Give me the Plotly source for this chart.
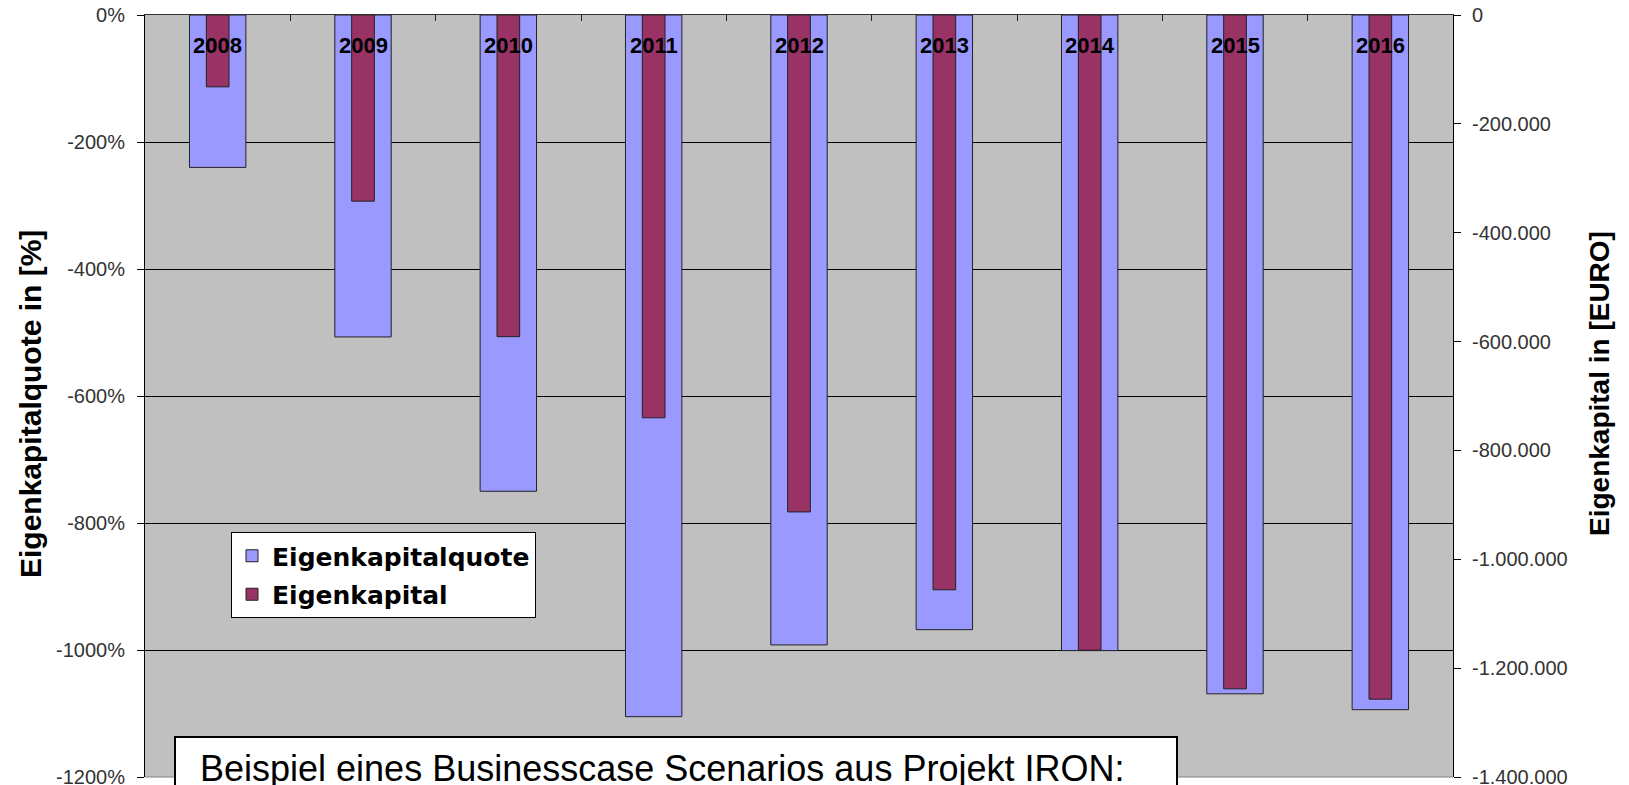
import plotly.graph_objects as go

years = ["2008", "2009", "2010", "2011", "2012", "2013", "2014", "2015", "2016"]
eigenkapitalquote = [-240, -507, -750, -1105, -992, -968, -1001, -1069, -1094]
eigenkapital = [-132000, -342000, -591000, -740000, -913000, -1056000, -1167000, -1238000, -1257000]

left_ticks = [0, -200, -400, -600, -800, -1000, -1200]
left_ticktext = ["0%", "-200%", "-400%", "-600%", "-800%", "-1000%", "-1200%"]
right_ticks = [0, -200000, -400000, -600000, -800000, -1000000, -1200000, -1400000]
right_ticktext = ["0", "-200.000", "-400.000", "-600.000", "-800.000", "-1.000.000", "-1.200.000", "-1.400.000"]

W, H = 1629, 785
L, R, T, B = 145, 176, 15, 8
pw, ph = W - L - R, H - T - B

def px(xp):
    return (xp - L) / pw

def py(yp):
    return (H - B - yp) / ph

fig = go.Figure()
fig.add_trace(go.Bar(
    x=years, y=eigenkapitalquote, name="Eigenkapitalquote", yaxis="y",
    width=0.388, marker=dict(color="#9999FF", line=dict(color="#222222", width=1)),
    legendgroup="a",
))
fig.add_trace(go.Bar(
    x=years, y=eigenkapital, name="Eigenkapital", yaxis="y2",
    width=0.156, marker=dict(color="#993366", line=dict(color="#222222", width=1)),
    legendgroup="b",
))

tickfont = dict(family="Liberation Sans, Arial", size=20, color="#333333")

fig.update_layout(
    width=W, height=H,
    margin=dict(l=L, r=R, t=T, b=B, pad=0, autoexpand=False),
    paper_bgcolor="white", plot_bgcolor="#C0C0C0",
    barmode="overlay",
    showlegend=True,
    legend=dict(
        x=px(231), y=py(532), xanchor="left", yanchor="top",
        bgcolor="white", bordercolor="black", borderwidth=1,
        font=dict(family="DejaVu Sans", size=25, color="black", weight="bold"),
        traceorder="grouped", tracegroupgap=3,
    ),
    xaxis=dict(
        type="category", categoryorder="array", categoryarray=years,
        range=[-0.5, 8.5], side="top", automargin=False,
        showline=True, linecolor="#333333", linewidth=1,
        ticks="inside", tickson="boundaries", ticklen=6, tickcolor="#222222",
        showticklabels=False, showgrid=False, zeroline=False, fixedrange=True,
    ),
    yaxis=dict(
        range=[-1200, 0], tickvals=left_ticks, ticktext=left_ticktext,
        showgrid=True, gridcolor="black", gridwidth=1, automargin=False,
        showline=True, linecolor="black", linewidth=1,
        ticks="outside", ticklen=7, tickcolor="black",
        tickfont=tickfont, ticklabelstandoff=8, zeroline=False,
        ticklabeloverflow="allow",
    ),
    yaxis2=dict(
        overlaying="y", side="right", automargin=False,
        range=[-1400000, 0], tickvals=right_ticks, ticktext=right_ticktext,
        showgrid=False, showline=True, linecolor="black", linewidth=1,
        ticks="outside", ticklen=7, tickcolor="black",
        tickfont=tickfont, ticklabelstandoff=7, zeroline=False,
        ticklabeloverflow="allow",
    ),
)

# year labels inside the top of the plot (category index positions)
for i, yr in enumerate(years):
    fig.add_annotation(
        x=i, xref="x", y=py(45), yref="paper", text=yr, showarrow=False,
        xanchor="center", yanchor="middle",
        font=dict(family="Liberation Sans, Arial", size=22, color="black", weight="bold"),
    )

# axis titles
fig.add_annotation(
    x=px(30), y=py(404), xref="paper", yref="paper", text="Eigenkapitalquote in [%]",
    textangle=-90, showarrow=False, xanchor="center", yanchor="middle",
    font=dict(family="Liberation Sans, Arial", size=30, color="black", weight="bold"),
)
fig.add_annotation(
    x=px(1599), y=py(384), xref="paper", yref="paper", text="Eigenkapital in [EURO]",
    textangle=-90, showarrow=False, xanchor="center", yanchor="middle",
    font=dict(family="Liberation Sans, Arial", size=28, color="black", weight="bold"),
)

# bottom border of plot area (gray)
fig.add_shape(type="line", xref="paper", yref="paper", x0=0, x1=1, y0=0, y1=0,
              line=dict(color="#808080", width=1), layer="above")
# note box
fig.add_shape(type="rect", xref="paper", yref="paper",
              x0=px(175), x1=px(1177), y0=py(800), y1=py(737),
              line=dict(color="black", width=2), fillcolor="white", layer="above")
fig.add_annotation(
    x=px(198), y=py(746), xref="paper", yref="paper",
    text="Beispiel eines Businesscase Scenarios aus Projekt IRON:",
    showarrow=False, xanchor="left", yanchor="top",
    font=dict(family="Liberation Sans, Arial", size=36, color="black"),
)

fig.write_html("out.html")
